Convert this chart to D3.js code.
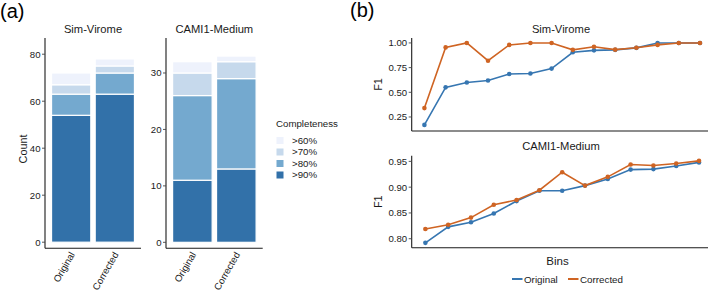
<!DOCTYPE html>
<html>
<head>
<meta charset="utf-8">
<script src="https://cdn.jsdelivr.net/npm/d3@7"></script>
<style>
  html, body { margin: 0; padding: 0; background: #fff; }
  svg { display: block; font-family: "Liberation Sans", Arial, sans-serif; }
</style>
</head>
<body>
<div id="chart"></div>
<script>
// (a) stacked bars: completeness counts, (b) F1 per bin

const barGroups = ["Original", "Corrected"];
const levels = [">90%", ">80%", ">70%", ">60%"];   // bottom -> top of stack
const legendLevels = [">60%", ">70%", ">80%", ">90%"];

// counts per level, same order as levels
const simOriginal = [54, 9, 4, 5];
const simCorrected = [63, 9, 3, 3];
const camiOriginal = [11, 15, 4, 2];
const camiCorrected = [13, 16, 3, 1];

const simTicks = [0, 20, 40, 60, 80];
const camiTicks = [0, 10, 20, 30];

// F1 per bin
const simF1Original  = [0.17, 0.55, 0.60, 0.62, 0.685, 0.69, 0.74, 0.905, 0.925, 0.93, 0.95, 1.00, 1.00, 1.00];
const simF1Corrected = [0.34, 0.955, 1.00, 0.82, 0.98, 1.00, 1.00, 0.93, 0.962, 0.932, 0.952, 0.98, 1.00, 1.00];
const camiF1Original  = [0.792, 0.823, 0.832, 0.849, 0.873, 0.893, 0.893, 0.903, 0.916, 0.934, 0.935, 0.941, 0.948];
const camiF1Corrected = [0.819, 0.827, 0.841, 0.866, 0.875, 0.894, 0.929, 0.903, 0.920, 0.944, 0.942, 0.946, 0.951];

const simF1Ticks = [0.25, 0.50, 0.75, 1.00];
const camiF1Ticks = [0.80, 0.85, 0.90, 0.95];

const W = 708, H = 292;
const svg = d3.select("#chart").append("svg").attr("width", W).attr("height", H);

const blues = d3.scaleOrdinal()
  .domain([">60%", ">70%", ">80%", ">90%"])
  .range(["#eef2fc", "#c6d9ec", "#74a9cf", "#3271a9"]);
const lineColor = d3.scaleOrdinal()
  .domain(["Original", "Corrected"])
  .range(["#3676b1", "#cf6423"]);

const axisCol = "#1a1a1a";
const tickFont = 9.6;

function yAxisLeft(g, y, x0, ticks, fmt) {
  g.append("line").attr("x1", x0).attr("x2", x0)
    .attr("y1", y.range()[0]).attr("y2", y.range()[1])
    .attr("stroke", axisCol).attr("stroke-width", 1.1);
  ticks.forEach(t => {
    g.append("line").attr("x1", x0 - 3).attr("x2", x0)
      .attr("y1", y(t)).attr("y2", y(t))
      .attr("stroke", "#444").attr("stroke-width", 0.9);
    g.append("text").attr("x", x0 - 4.5).attr("y", y(t))
      .attr("dy", "0.35em").attr("text-anchor", "end")
      .attr("font-size", tickFont).attr("fill", axisCol)
      .text(fmt(t));
  });
}

// ---------- (a) ----------
svg.append("text").attr("x", 0).attr("y", 18).attr("font-size", 20).text("(a)");

function barPanel(x0, x1, domain, title, origVals, corrVals, ticks) {
  const y = d3.scaleLinear().domain(domain).range([248.3, 38]);
  const x = d3.scalePoint().domain(barGroups).range([x0, x1]).padding(0.6);
  const bw = x.step() * 0.9;
  const g = svg.append("g");

  [origVals, corrVals].forEach((vals, gi) => {
    const cx = x(barGroups[gi]);
    let acc = 0;
    const segs = levels.map((lv, i) => {
      const s = { level: lv, y0: acc, y1: acc + vals[i] };
      acc += vals[i];
      return s;
    });
    g.selectAll(null).data(segs).enter().append("rect")
      .attr("x", cx - bw / 2)
      .attr("width", bw)
      .attr("y", d => y(d.y1))
      .attr("height", d => y(d.y0) - y(d.y1))
      .attr("fill", d => blues(d.level))
      .attr("stroke", "#fff").attr("stroke-width", 1.2);

    g.append("text")
      .attr("transform", `translate(${cx - 2},251) rotate(-60)`)
      .attr("text-anchor", "end").attr("dy", "0.72em")
      .attr("font-size", tickFont).attr("fill", axisCol)
      .text(barGroups[gi]);
  });

  yAxisLeft(g, y, x0, ticks, d3.format("d"));
  g.append("line").attr("x1", x0).attr("x2", x1)
    .attr("y1", 248.3).attr("y2", 248.3)
    .attr("stroke", axisCol).attr("stroke-width", 1.1);

  g.append("text").attr("x", (x0 + x1) / 2).attr("y", 33)
    .attr("text-anchor", "middle").attr("font-size", 11.2).attr("fill", axisCol)
    .text(title);
}

barPanel(45, 141, [-2.6, 86.9], "Sim-Virome", simOriginal, simCorrected, simTicks);
barPanel(166, 262.7, [-1.06, 36.2], "CAMI1-Medium", camiOriginal, camiCorrected, camiTicks);

svg.append("text")
  .attr("transform", "translate(26.5,149) rotate(-90)")
  .attr("text-anchor", "middle").attr("font-size", 10.8).attr("fill", axisCol)
  .text("Count");

// legend
const leg = svg.append("g");
leg.append("text").attr("x", 276).attr("y", 127)
  .attr("font-size", 9.7).attr("fill", axisCol).text("Completeness");
legendLevels.forEach((lv, i) => {
  const cy = 140.5 + i * 11.5;
  leg.append("rect").attr("x", 276.5).attr("y", cy - 3.5)
    .attr("width", 7).attr("height", 7).attr("fill", blues(lv));
  leg.append("text").attr("x", 292).attr("y", cy).attr("dy", "0.36em")
    .attr("font-size", 9.7).attr("fill", axisCol).text(lv);
});

// ---------- (b) ----------
svg.append("text").attr("x", 350).attr("y", 17).attr("font-size", 20).text("(b)");

function linePanel(top, bottom, domain, title, origVals, corrVals, ticks, titleY) {
  const xl = 411.7, xr = 712.7;
  const y = d3.scaleLinear().domain(domain).range([bottom, top]);
  const x = d3.scalePoint().domain(d3.range(origVals.length)).range([xl, xr]).padding(0.6);
  const g = svg.append("g");

  yAxisLeft(g, y, xl, ticks, d3.format(".2f"));
  g.append("line").attr("x1", xl).attr("x2", xr)
    .attr("y1", bottom).attr("y2", bottom)
    .attr("stroke", axisCol).attr("stroke-width", 1.1);

  const line = d3.line().x((d, i) => x(i)).y(d => y(d));
  [["Original", origVals], ["Corrected", corrVals]].forEach(([name, vals]) => {
    g.append("path").datum(vals)
      .attr("d", line).attr("fill", "none")
      .attr("stroke", lineColor(name)).attr("stroke-width", 1.6);
    g.selectAll(null).data(vals).enter().append("circle")
      .attr("cx", (d, i) => x(i)).attr("cy", d => y(d)).attr("r", 2.3)
      .attr("fill", lineColor(name));
  });

  g.append("text").attr("x", 561).attr("y", titleY)
    .attr("text-anchor", "middle").attr("font-size", 11.2).attr("fill", axisCol)
    .text(title);
  g.append("text")
    .attr("transform", `translate(381.5,${(top + bottom) / 2}) rotate(-90)`)
    .attr("text-anchor", "middle").attr("font-size", 10.8).attr("fill", axisCol)
    .text("F1");
}

linePanel(38, 131, [0.108, 1.05], "Sim-Virome", simF1Original, simF1Corrected, simF1Ticks, 33);
linePanel(155.7, 247.7, [0.7826, 0.961], "CAMI1-Medium", camiF1Original, camiF1Corrected, camiF1Ticks, 150);

svg.append("text").attr("x", 557.5).attr("y", 265)
  .attr("text-anchor", "middle").attr("font-size", 11.5).attr("fill", axisCol)
  .text("Bins");

// bottom legend
const lg = svg.append("g");
[["Original", 512], ["Corrected", 568]].forEach(([name, lx]) => {
  lg.append("line").attr("x1", lx).attr("x2", lx + 10.5)
    .attr("y1", 279).attr("y2", 279)
    .attr("stroke", lineColor(name)).attr("stroke-width", 2);
  lg.append("text").attr("x", lx + 12).attr("y", 279).attr("dy", "0.36em")
    .attr("font-size", 9.8).attr("fill", axisCol).text(name);
});
</script>
</body>
</html>
